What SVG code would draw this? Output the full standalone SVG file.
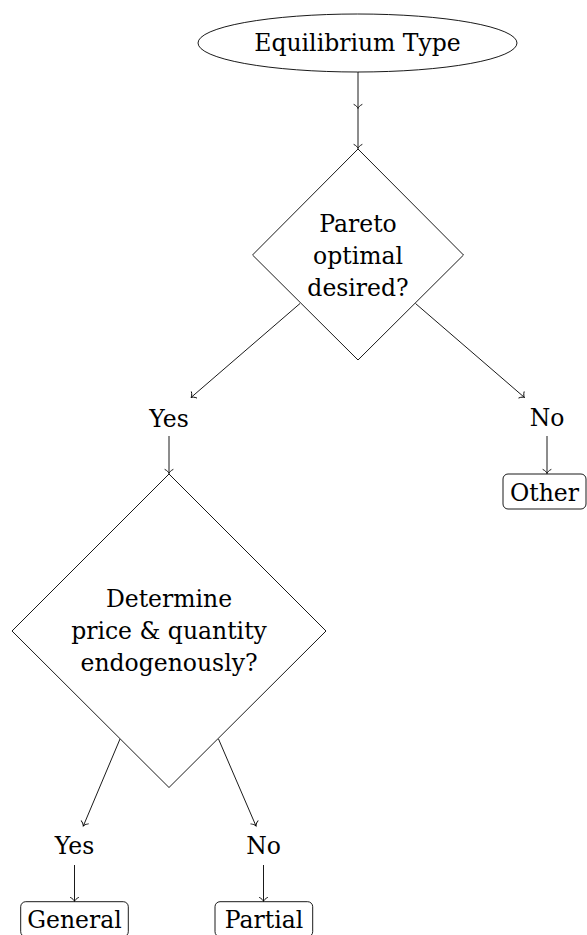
<svg xmlns="http://www.w3.org/2000/svg" width="587" height="935" viewBox="0 0 587 935">
  <style>
    .shape { fill: #fff; stroke: #000; stroke-width: 0.9; }
    .lbl { font-family: "DejaVu Serif", serif; font-size: 23.5px; fill: #000; text-anchor: middle; }
    .edge { fill: none; stroke: #000; stroke-width: 0.9; marker-end: url(#to); }
  </style>
  <defs>
    <marker id="to" markerUnits="userSpaceOnUse" viewBox="-6 -6 12 12" markerWidth="12" markerHeight="12" refX="0" refY="0" orient="auto">
      <path d="M-4,-4 C-3,-1.8 -1.2,-0.4 0,0 C-1.2,0.4 -3,1.8 -4,4" fill="none" stroke="#000" stroke-width="0.9" stroke-linecap="round"/>
    </marker>
  </defs>

  <g id="connectors">
    <line class="edge" x1="358" y1="72" x2="358" y2="108.5"/>
    <line class="edge" x1="358" y1="108.5" x2="358" y2="148.5"/>
    <line class="edge" x1="300" y1="303.5" x2="191" y2="397.5"/>
    <line class="edge" x1="415.5" y1="303.5" x2="524.5" y2="397.5"/>
    <line class="edge" x1="169" y1="436" x2="169" y2="473.5"/>
    <line class="edge" x1="547" y1="436" x2="547" y2="473.5"/>
    <line class="edge" x1="120" y1="739" x2="83.3" y2="826"/>
    <line class="edge" x1="218.5" y1="739" x2="256" y2="826"/>
    <line class="edge" x1="74.5" y1="865" x2="74.5" y2="901.5"/>
    <line class="edge" x1="263.5" y1="865" x2="263.5" y2="901.5"/>
  </g>

  <g id="equilibrium-type">
    <ellipse class="shape" cx="357.5" cy="43" rx="159.5" ry="29"/>
    <text class="lbl" x="357.5" y="51">Equilibrium Type</text>
  </g>

  <g id="pareto">
    <polygon class="shape" points="358,149 463.5,255 358,360 252.5,255"/>
    <text class="lbl" x="358" y="232">Pareto</text>
    <text class="lbl" x="358" y="264">optimal</text>
    <text class="lbl" x="358" y="296">desired?</text>
  </g>

  <g id="yes1">
    <text class="lbl" x="169" y="427">Yes</text>
  </g>

  <g id="no1">
    <text class="lbl" x="547" y="426">No</text>
  </g>

  <g id="other">
    <rect class="shape" x="503" y="474" width="83" height="35" rx="5" ry="5"/>
    <text class="lbl" x="544.5" y="501">Other</text>
  </g>

  <g id="determine">
    <polygon class="shape" points="169,474 326,631 169,787.5 12,631"/>
    <text class="lbl" x="169" y="607">Determine</text>
    <text class="lbl" x="169" y="639">price &amp; quantity</text>
    <text class="lbl" x="169" y="671">endogenously?</text>
  </g>

  <g id="yes2">
    <text class="lbl" x="74.5" y="854">Yes</text>
  </g>

  <g id="no2">
    <text class="lbl" x="263.5" y="854">No</text>
  </g>

  <g id="general">
    <rect class="shape" x="20.7" y="901.7" width="107.6" height="35" rx="5" ry="5"/>
    <text class="lbl" x="74.5" y="928">General</text>
  </g>

  <g id="partial">
    <rect class="shape" x="215" y="901.7" width="97.7" height="35" rx="5" ry="5"/>
    <text class="lbl" x="264" y="928">Partial</text>
  </g>
</svg>
